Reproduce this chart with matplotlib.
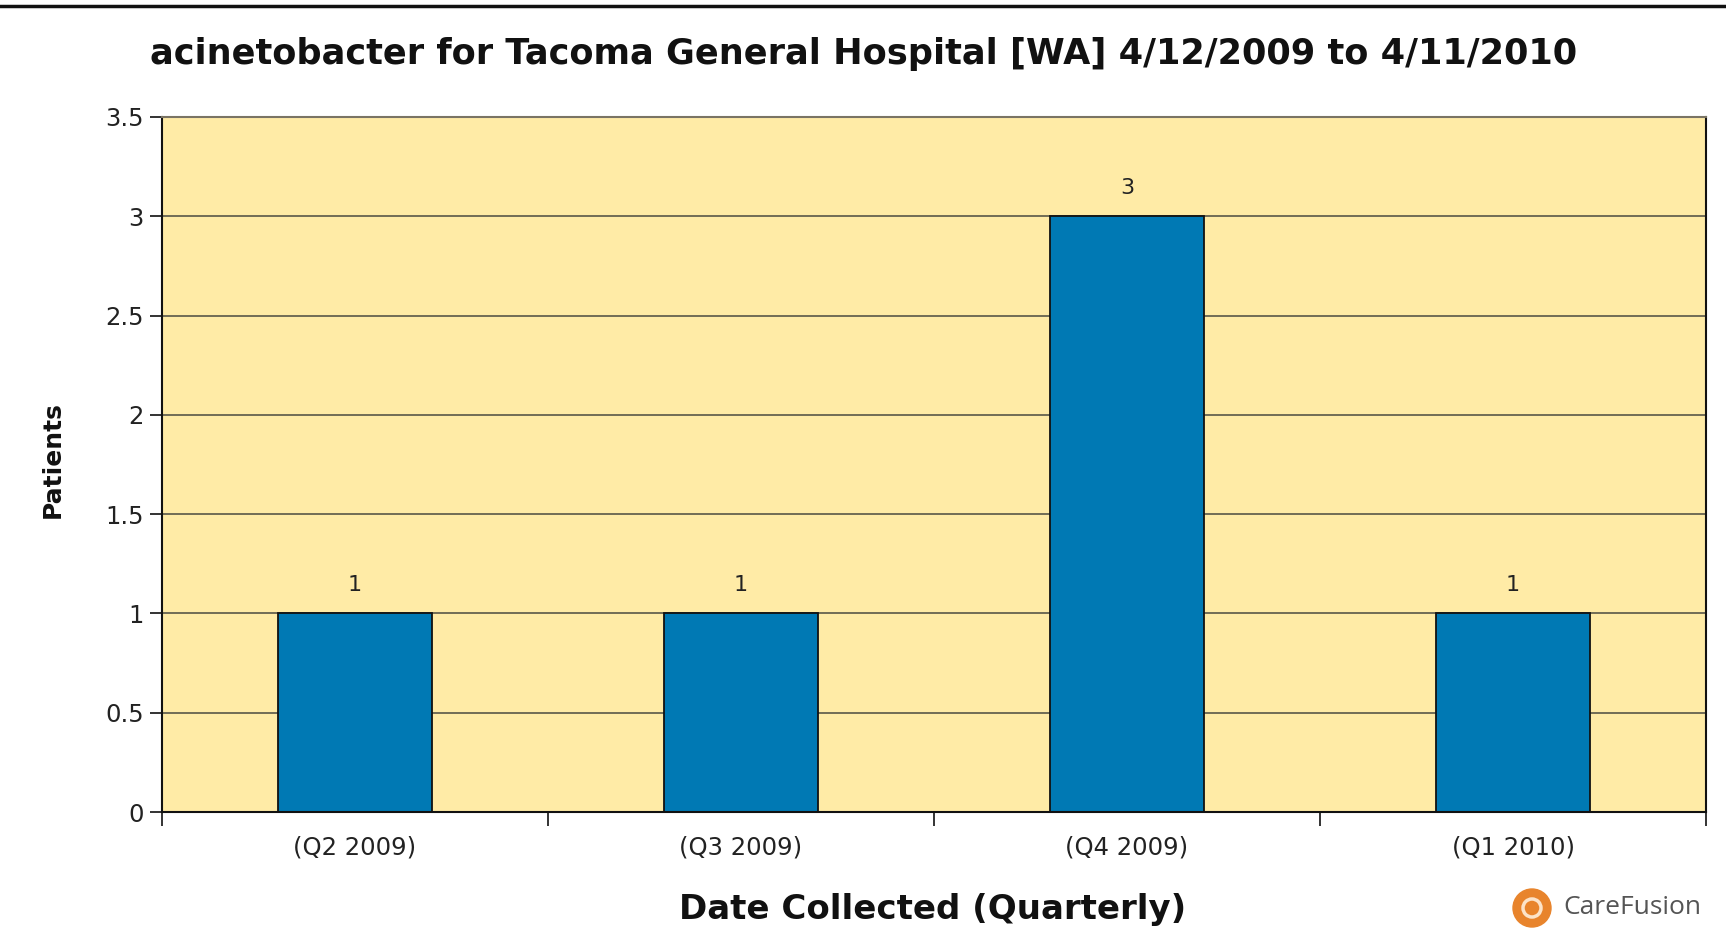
import matplotlib
matplotlib.use("Agg")
import matplotlib.pyplot as plt
from matplotlib.patches import Circle
from matplotlib.lines import Line2D

categories = ["(Q2 2009)", "(Q3 2009)", "(Q4 2009)", "(Q1 2010)"]
patients = [1, 1, 3, 1]
y_ticks = [0, 0.5, 1, 1.5, 2, 2.5, 3, 3.5]
y_tick_labels = ["0", "0.5", "1", "1.5", "2", "2.5", "3", "3.5"]
title = "acinetobacter for Tacoma General Hospital [WA] 4/12/2009 to 4/11/2010"

W, H = 1726, 950
fig = plt.figure(figsize=(W / 100, H / 100), dpi=100)
fig.patch.set_facecolor("white")

L, R, T, B = 162, 1706, 117, 812
ax = fig.add_axes([L / W, 1 - B / H, (R - L) / W, (B - T) / H])
ax.set_facecolor("#FFEBA6")

x = list(range(len(categories)))
ax.set_xlim(-0.5, len(categories) - 0.5)
ax.set_ylim(0, 3.5)

for yv in y_ticks[1:-1]:
    ax.axhline(yv, color="#4a4a40", lw=1.1, zorder=1)

ax.bar(x, patients, width=0.4, color="#0079B4", edgecolor="#111111", lw=1.3, zorder=2)
for xi, v in zip(x, patients):
    ax.annotate(str(v), (xi, v), xytext=(0, 13), textcoords="offset points",
                ha="center", va="bottom", fontsize=16, family="DejaVu Sans", color="#222222")

tick_font = dict(fontsize=17.5, family="DejaVu Sans", color="#222222")
ax.set_yticks(y_ticks)
ax.set_yticklabels(y_tick_labels, **tick_font)
ax.set_xticks([i - 0.5 for i in range(len(categories) + 1)])
ax.set_xticklabels([""] * (len(categories) + 1))
ax.set_xticks(x, minor=True)
ax.set_xticklabels(categories, minor=True, **tick_font)
ax.tick_params(axis="x", which="minor", length=0, pad=17)
ax.tick_params(axis="x", which="major", length=10, width=1.2, color="#111111")
ax.tick_params(axis="y", length=9, width=1.2, color="#111111", pad=4)

for s in ["left", "bottom", "right"]:
    ax.spines[s].set_color("#111111")
    ax.spines[s].set_linewidth(1.5)
ax.spines["top"].set_color("#7a7464")
ax.spines["top"].set_linewidth(1.5)

fig.text(864 / W, 1 - 54 / H, title, ha="center", va="center", fontsize=25.3,
         fontweight="bold", family="DejaVu Sans", color="#111111")
fig.text(53 / W, 1 - 460 / H, "Patients", ha="center", va="center", rotation=90,
         fontsize=18, fontweight="bold", family="DejaVu Sans", color="#111111")
fig.text(933 / W, 1 - 909 / H, "Date Collected (Quarterly)", ha="center", va="center",
         fontsize=24.5, fontweight="bold", family="DejaVu Sans", color="#111111")

# top border line
fig.add_artist(Line2D([0, 1], [1 - 6 / H, 1 - 6 / H], transform=fig.transFigure,
                      color="#111111", lw=2.5))

# CareFusion logo
fig.add_artist(Circle((1532, 950 - 908), 19, transform=None,
                      color="#E8842C", zorder=5))
fig.add_artist(Circle((1532, 950 - 908), 9, transform=None, fill=False,
                      edgecolor="#FCE3C8", lw=2.5, zorder=6))
fig.text(1563 / W, 1 - 908 / H, "CareFusion", ha="left", va="center", fontsize=19,
         family="Open Sans", color="#555555")

fig.savefig("out.png", dpi=100)
